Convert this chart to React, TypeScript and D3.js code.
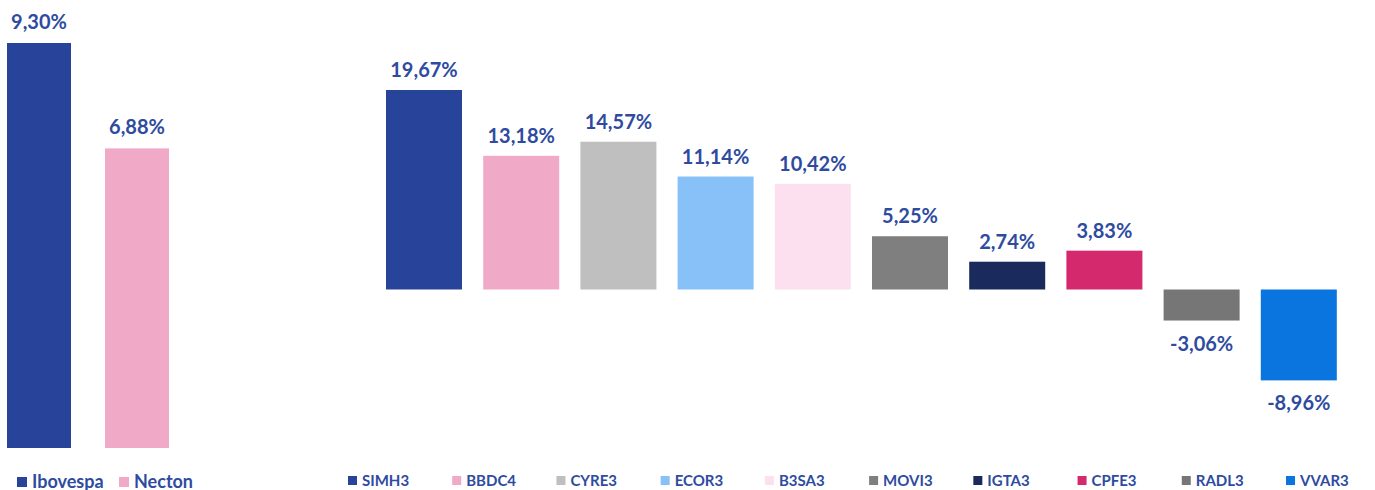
import React from "react";
import * as d3 from "d3";

const leftNames = ["Ibovespa", "Necton"];
const leftValues = [9.3, 6.88];
const leftColors = ["#28449A", "#F0AAC8"];

const rightNames = ["SIMH3", "BBDC4", "CYRE3", "ECOR3", "B3SA3", "MOVI3", "IGTA3", "CPFE3", "RADL3", "VVAR3"];
const rightValues = [19.67, 13.18, 14.57, 11.14, 10.42, 5.25, 2.74, 3.83, -3.06, -8.96];
const rightColors = ["#28449A", "#F0AAC8", "#BFBFBF", "#88C0F8", "#FDE0EF", "#7F7F7F", "#1B2A5C", "#D4296D", "#767676", "#0A74DF"];

const W = 1375;
const H = 490;
const TEXT = "#2E4B9F";
const FONT = "Lato, 'Open Sans', sans-serif";

const fmt = (v: number) => v.toFixed(2).replace(".", ",") + "%";

export default function App() {
  const xl = d3.scaleBand<string>().domain(leftNames).range([7, 169]).paddingInner(0.347).paddingOuter(0);
  const yl = d3.scaleLinear().domain([0, d3.max(leftValues) as number]).range([448, 43]);

  const xr = d3.scaleBand<string>().domain(rightNames).range([375.4, 1347.4]).paddingInner(0.218).paddingOuter(0.109);
  const yr = d3.scaleLinear().domain([0, d3.max(rightValues) as number]).range([289.5, 90]);

  const legR = d3.scalePoint<string>().domain(rightNames).range([348, 1286]);
  const legL = d3.scalePoint<string>().domain(leftNames).range([17, 119]);

  return (
    <svg width={W} height={H} style={{ position: "absolute", left: 0, top: 0, background: "#fff" }} fontFamily={FONT}>
      {leftNames.map((n, i) => {
        const v = leftValues[i];
        const x = xl(n) as number;
        return (
          <g key={n}>
            <rect x={x} y={yl(v)} width={xl.bandwidth()} height={yl(0) - yl(v)} fill={leftColors[i]} />
            <text x={x + xl.bandwidth() / 2} y={yl(v) - 14} textAnchor="middle" fontWeight="bold" fontSize={20} fill={TEXT}>
              {fmt(v)}
            </text>
          </g>
        );
      })}
      {rightNames.map((n, i) => {
        const v = rightValues[i];
        const x = xr(n) as number;
        const top = Math.min(yr(v), yr(0));
        const h = Math.abs(yr(v) - yr(0));
        const ly = v >= 0 ? yr(v) - 13 : yr(v) + 30;
        return (
          <g key={n}>
            <rect x={x} y={top} width={xr.bandwidth()} height={h} fill={rightColors[i]} />
            <text x={x + xr.bandwidth() / 2} y={ly} textAnchor="middle" fontWeight="bold" fontSize={20} fill={TEXT}>
              {fmt(v)}
            </text>
          </g>
        );
      })}
      {leftNames.map((n, i) => {
        const x = legL(n) as number;
        return (
          <g key={"ll" + n}>
            <rect x={x} y={477} width={10} height={10} fill={leftColors[i]} />
            <text x={x + 15} y={488} fontWeight="bold" fontSize={18} fill={TEXT}>{n}</text>
          </g>
        );
      })}
      {rightNames.map((n, i) => {
        const x = legR(n) as number;
        return (
          <g key={"lr" + n}>
            <rect x={x} y={476} width={9} height={9} fill={rightColors[i]} />
            <text x={x + 14} y={486} fontWeight="bold" fontSize={15} fill={TEXT}>{n}</text>
          </g>
        );
      })}
    </svg>
  );
}
